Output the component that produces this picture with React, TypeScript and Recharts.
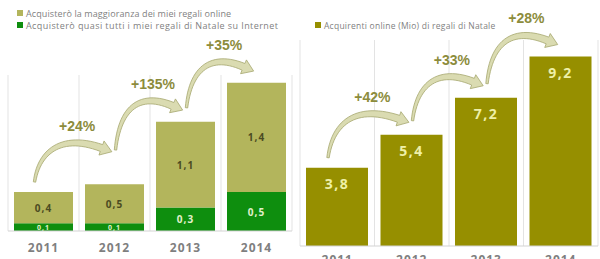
import { BarChart, Bar, XAxis, YAxis, CartesianGrid, LabelList } from 'recharts';

const YEARS = ['2011', '2012', '2013', '2014'];
// left chart: share of buyers (Mio)
const NEARLY_ALL = [0.1, 0.1, 0.3, 0.5];
const MOST = [0.4, 0.5, 1.1, 1.4];
const LEFT_GROWTH = ['+24%', '+135%', '+35%'];
// right chart: online buyers of Christmas gifts (Mio)
const BUYERS = [3.8, 5.4, 7.2, 9.2];
const RIGHT_GROWTH = ['+42%', '+33%', '+28%'];

const LIGHT = '#b3b55c';
const GREEN = '#0e8e0e';
const OLIVE = '#968f00';
const ARROW_FILL = '#dadbb1';
const ARROW_LINE = '#a6a76e';
const PCT = '#8c8c3c';
const GREY = '#7f7f7f';
const FONT = '"Open Sans", sans-serif';
const PCT_FONT = '"Liberation Sans", Arial, sans-serif';

const LEFT_W = 300;
const LEFT_MARGIN = { top: 75, right: 8, bottom: 0, left: 8 };
const RIGHT_W = 310;
const RIGHT_MARGIN = { top: 40, right: 2, bottom: 0, left: 10 };

const fmt = (v: number) => v.toFixed(1).replace('.', ',');

const leftData = YEARS.map((year, i) => ({ year, all: NEARLY_ALL[i], most: MOST[i] }));
const rightData = YEARS.map((year, i) => ({ year, buyers: BUYERS[i] }));

const boundaries = ({ offset }: any) =>
  [0, 1, 2, 3, 4].map((i) => offset.left + (i * offset.width) / 4);

function box(props: any) {
  const vb = props.viewBox || {};
  return {
    x: props.x ?? vb.x,
    y: props.y ?? vb.y,
    width: props.width ?? vb.width,
    height: props.height ?? vb.height,
  };
}

// curved, widening arrow from a tail point to a head base
function arrowShape(tx: number, ty: number, bx: number, by: number) {
  const dx = bx - tx;
  const p0 = { x: tx, y: ty };
  const p1 = { x: tx + dx * 0.07, y: by + 2 };
  const p2 = { x: tx + dx * 0.42, y: by - 14 };
  const p3 = { x: bx, y: by };
  const n = 28;
  const left: string[] = [];
  const right: string[] = [];
  for (let k = 0; k <= n; k++) {
    const t = k / n;
    const u = 1 - t;
    const x = u * u * u * p0.x + 3 * u * u * t * p1.x + 3 * u * t * t * p2.x + t * t * t * p3.x;
    const y = u * u * u * p0.y + 3 * u * u * t * p1.y + 3 * u * t * t * p2.y + t * t * t * p3.y;
    const ddx = 3 * u * u * (p1.x - p0.x) + 6 * u * t * (p2.x - p1.x) + 3 * t * t * (p3.x - p2.x);
    const ddy = 3 * u * u * (p1.y - p0.y) + 6 * u * t * (p2.y - p1.y) + 3 * t * t * (p3.y - p2.y);
    const len = Math.hypot(ddx, ddy) || 1;
    const nx = -ddy / len;
    const ny = ddx / len;
    const hw = 1.2 + 2.4 * t;
    left.push(`${x + nx * hw},${y + ny * hw}`);
    right.unshift(`${x - nx * hw},${y - ny * hw}`);
  }
  const ex = p3.x - p2.x;
  const ey = p3.y - p2.y;
  const el = Math.hypot(ex, ey) || 1;
  const d = { x: ex / el, y: ey / el };
  const nn = { x: -d.y, y: d.x };
  const hl = `${p3.x + nn.x * 7.5},${p3.y + nn.y * 7.5}`;
  const tip = { x: p3.x + d.x * 11, y: p3.y + d.y * 11 };
  const hr = `${p3.x - nn.x * 7.5},${p3.y - nn.y * 7.5}`;
  return { points: [...left, hl, `${tip.x},${tip.y}`, hr, ...right].join(' '), tip };
}

function growthArrows(centers: number[], tops: number[], labels: string[]) {
  const out: any[] = [];
  let prevTip = Infinity;
  for (let i = 0; i < centers.length - 1; i++) {
    const tipY = Math.min(tops[i + 1] - 12, tops[i] - 40);
    const tailY = i === 0 ? tops[i] - 10 : Math.min(tops[i] - 10, prevTip - 2);
    const tailX = i === 0 ? centers[i] - 9 : centers[i] + 1;
    const { points, tip } = arrowShape(tailX, tailY, centers[i + 1] - 13, tipY - 4);
    out.push(
      <polygon key={`a${i}`} points={points} fill={ARROW_FILL} stroke={ARROW_LINE} strokeWidth={0.8} />,
      <text
        key={`t${i}`}
        x={(tailX + tip.x) / 2 + 4}
        y={tipY - 26}
        textAnchor="middle"
        dominantBaseline="central"
        fill={PCT}
        fontSize={14}
        fontWeight={700}
        fontFamily={PCT_FONT}
      >
        {labels[i]}
      </text>
    );
    prevTip = tipY;
  }
  return <g>{out}</g>;
}

function makeArrowLabel(totals: number[], segment: number[], labels: string[], chartW: number, margin: any) {
  return (props: any) => {
    const { index } = props;
    const last = totals.length - 1;
    if (index !== last) return null;
    const { x, y, width, height } = box(props);
    const ppu = height / segment[index];
    const baseline = y + totals[index] * ppu;
    const catW = (chartW - margin.left - margin.right) / totals.length;
    const centers = totals.map((_, k) => x + width / 2 - (last - k) * catW);
    const tops = totals.map((t) => baseline - t * ppu);
    return growthArrows(centers, tops, labels);
  };
}

const leftTotals = NEARLY_ALL.map((v, i) => v + MOST[i]);

const segmentLabel = (values: number[], color: string) => (props: any) => {
  const { x, y, width, height } = box(props);
  const v = values[props.index];
  const small = height < 12;
  return (
    <text
      x={x + width / 2}
      y={y + height / 2}
      textAnchor="middle"
      dominantBaseline="central"
      fill={color}
      fontSize={small ? 7 : 10}
      fontWeight={700}
      fontFamily={FONT}
      letterSpacing={1}
    >
      {fmt(v)}
    </text>
  );
};

const buyersLabel = (props: any) => {
  const { x, y, width } = box(props);
  return (
    <text
      x={x + width / 2}
      y={y + 16}
      textAnchor="middle"
      dominantBaseline="central"
      fill="#eef0a8"
      fontSize={14}
      fontWeight={700}
      fontFamily={FONT}
      letterSpacing={1.5}
    >
      {fmt(BUYERS[props.index])}
    </text>
  );
};

const yearTick = { fill: GREY, fontSize: 12, fontWeight: 700, fontFamily: FONT, letterSpacing: 1 };

function LegendRow({ color, text, size, spacing }: { color: string; text: string; size: number; spacing: number }) {
  return (
    <div style={{ display: 'flex', alignItems: 'center', height: 12, whiteSpace: 'nowrap' }}>
      <span style={{ width: 6, height: 6, background: color, marginRight: 3, display: 'inline-block' }} />
      <span style={{ fontSize: size, color: GREY, fontFamily: FONT, letterSpacing: spacing }}>{text}</span>
    </div>
  );
}

export default function App() {
  return (
    <div
      style={{
        position: 'fixed',
        left: 0,
        top: 0,
        width: 600,
        height: 259,
        overflow: 'hidden',
        background: '#ffffff',
      }}
    >
      <div style={{ position: 'absolute', left: 17, top: 7 }}>
        <LegendRow color={LIGHT} text="Acquisterò la maggioranza dei miei regali online" size={9} spacing={0.1} />
        <LegendRow color={GREEN} text="Acquisterò quasi tutti i miei regali di Natale su Internet" size={9} spacing={0.42} />
      </div>
      <div style={{ position: 'absolute', left: 315, top: 19 }}>
        <LegendRow color={OLIVE} text="Acquirenti online (Mio) di regali di Natale" size={8.5} spacing={0.25} />
      </div>

      <div style={{ position: 'absolute', left: 0, top: 0 }}>
        <BarChart width={LEFT_W} height={259} data={leftData} margin={LEFT_MARGIN} barSize={59}>
          <CartesianGrid horizontal={false} stroke="#e3e3e3" verticalCoordinatesGenerator={boundaries} />
          <XAxis
            dataKey="year"
            height={28}
            axisLine={{ stroke: '#d3d3d3' }}
            tickLine={false}
            tickMargin={6}
            tick={yearTick}
          />
          <YAxis hide domain={[0, 2]} />
          <Bar dataKey="all" stackId="s" fill={GREEN} isAnimationActive={false}>
            <LabelList content={segmentLabel(NEARLY_ALL, '#e2f0cc')} />
          </Bar>
          <Bar dataKey="most" stackId="s" fill={LIGHT} isAnimationActive={false}>
            <LabelList content={segmentLabel(MOST, '#4b4b22')} />
            <LabelList content={makeArrowLabel(leftTotals, MOST, LEFT_GROWTH, LEFT_W, LEFT_MARGIN)} />
          </Bar>
        </BarChart>
      </div>

      <div style={{ position: 'absolute', left: 290, top: 0 }}>
        <BarChart width={RIGHT_W} height={280} data={rightData} margin={RIGHT_MARGIN} barSize={62}>
          <CartesianGrid horizontal={false} stroke="#e3e3e3" verticalCoordinatesGenerator={boundaries} />
          <XAxis
            dataKey="year"
            height={34}
            axisLine={{ stroke: '#d3d3d3' }}
            tickLine={false}
            tickMargin={3}
            tick={yearTick}
          />
          <YAxis hide domain={[0, 10]} />
          <Bar dataKey="buyers" fill={OLIVE} isAnimationActive={false}>
            <LabelList content={buyersLabel} />
            <LabelList content={makeArrowLabel(BUYERS, BUYERS, RIGHT_GROWTH, RIGHT_W, RIGHT_MARGIN)} />
          </Bar>
        </BarChart>
      </div>
    </div>
  );
}
